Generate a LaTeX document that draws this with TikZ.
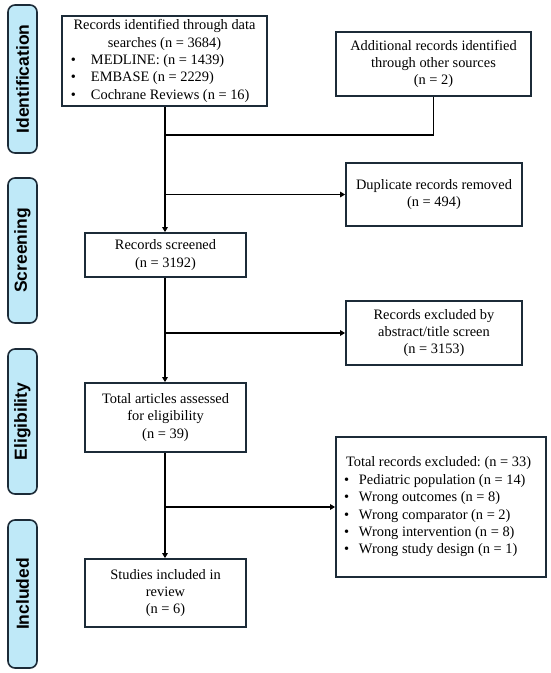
\documentclass[tikz,border=0pt]{standalone}
\usepackage{fontspec}
\setmainfont{Liberation Serif}
\newfontfamily\labfont{Liberation Sans}
\usetikzlibrary{arrows.meta}
\frenchspacing
\definecolor{edge}{HTML}{1C2B38}
\definecolor{labfill}{HTML}{BFE9F8}
\tikzset{
  box/.style={draw=edge, line width=1.7pt, fill=white, inner sep=0pt, align=center,
    font=\fontsize{14.4}{17.4}\selectfont},
  phase/.style={draw=edge, line width=1.6pt, fill=labfill, rounded corners=7pt,
    minimum width=29pt, inner sep=0pt},
  phasetext/.style={rotate=90, font=\labfont\bfseries\fontsize{17.5}{20}\selectfont},
  conn/.style={draw=black, line width=1.6pt},
  arr/.style={conn, -{Triangle[length=5pt,width=5.5pt]}}
}
\newcommand{\bl}[1]{\makebox[15pt][l]{\textbullet}#1\\}
\begin{document}
\begin{tikzpicture}[x=1pt,y=-1pt]
\useasboundingbox (0,0) rectangle (550,673);
% phase labels
\node[phase, minimum height=148pt] (pI) at (22.5,79) {};
\node[phasetext] (tI) at (pI.center) {Identification};
\node[phase, minimum height=145pt] (pS) at (22.5,250.5) {};
\node[phasetext] (tS) at (pS.center) {Screening};
\node[phase, minimum height=145pt] (pE) at (22.5,421.5) {};
\node[phasetext] (tE) at (pE.center) {Eligibility};
\node[phase, minimum height=148pt] (pN) at (22.5,594) {};
\node[phasetext] (tN) at (pN.center) {Included};
% boxes
\node[box, minimum width=205pt, minimum height=90pt] (id) at (164.5,61) {%
  \parbox{197pt}{\centering Records identified through data\\ searches (n = 3684)\par
  \raggedright
  \hspace*{5pt}\makebox[20pt][l]{\textbullet}MEDLINE: (n = 1439)\\
  \hspace*{5pt}\makebox[20pt][l]{\textbullet}EMBASE (n = 2229)\\
  \hspace*{5pt}\makebox[20pt][l]{\textbullet}Cochrane Reviews (n = 16)}};
\node[box, minimum width=195pt, minimum height=64pt] (add) at (433.5,64) {Additional records identified\\ through other sources\\ (n = 2)};
\node[box, minimum width=176pt, minimum height=63pt] (dup) at (434,194.5) {Duplicate records removed\\ (n = 494)};
\node[box, minimum width=161pt, minimum height=44pt] (scr) at (165.5,255) {Records screened\\ (n = 3192)};
\node[box, minimum width=176pt, minimum height=64pt] (exc) at (434,333) {Records excluded by\\ abstract/title screen\\ (n = 3153)};
\node[box, minimum width=161pt, minimum height=69pt] (elig) at (165.5,417.5) {Total articles assessed\\ for eligibility\\ (n = 39)};
\node[box, minimum width=210pt, minimum height=140pt] (exc2) at (441,507) {%
  \parbox{194pt}{\raggedright\hspace*{2pt}Total records excluded: (n = 33)\\
  \bl{Pediatric population (n = 14)}
  \bl{Wrong outcomes (n = 8)}
  \bl{Wrong comparator (n = 2)}
  \bl{Wrong intervention (n = 8)}
  \makebox[15pt][l]{\textbullet}Wrong study design (n = 1)}};
\node[box, minimum width=161pt, minimum height=68pt] (inc) at (165.5,593) {Studies included in\\ review\\ (n = 6)};
% junctions
\coordinate (j1) at (165,135);
\coordinate (b1) at (165,194.5);
\coordinate (b2) at (165,333);
\coordinate (b3) at (165,507);
% connectors
\draw[arr] (id.south -| j1) -- (scr.north -| j1);
\draw[conn] (add.south) |- (j1);
\draw[arr] (b1) -- (dup.west);
\draw[arr] (scr.south -| b2) -- (elig.north -| b2);
\draw[arr] (b2) -- (exc.west);
\draw[arr] (elig.south -| b3) -- (inc.north -| b3);
\draw[arr] (b3) -- (exc2.west);
\end{tikzpicture}
\end{document}
